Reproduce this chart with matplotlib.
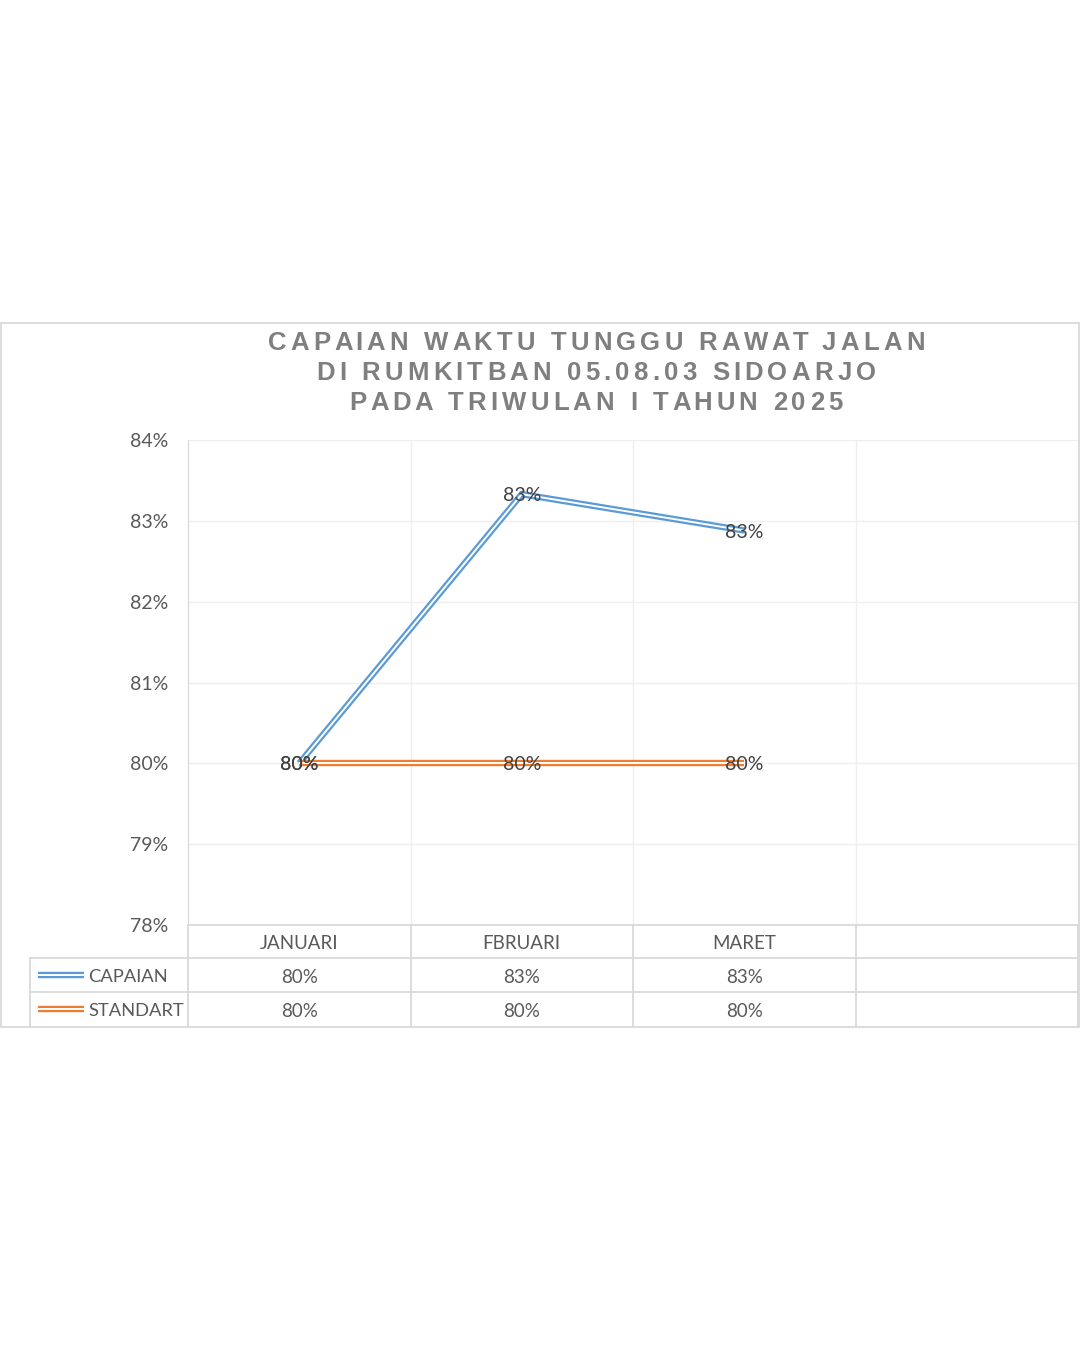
import matplotlib
matplotlib.use("Agg")
import matplotlib.pyplot as plt
from matplotlib.lines import Line2D
from matplotlib.patches import Rectangle
from matplotlib.transforms import blended_transform_factory
from matplotlib.font_manager import FontProperties

months = ["JANUARI", "FBRUARI", "MARET", ""]
capaian = [80.0, 83.33, 82.88]
standart = [80.0, 80.0, 80.0]
capaian_labels = ["80%", "83%", "83%"]
standart_labels = ["80%", "80%", "80%"]
series_names = ["CAPAIAN", "STANDART"]
title_lines = ["CAPAIAN WAKTU TUNGGU RAWAT JALAN",
               "DI RUMKITBAN 05.08.03 SIDOARJO",
               "PADA TRIWULAN I TAHUN 2025"]
yticks = [78, 79, 80, 81, 82, 83, 84]

W, H = 1080, 1350
BLUE = "#5b9bd5"
ORANGE = "#ed7d31"
GRID = "#efefef"
BORDER = "#d9d9d9"
TXT = "#595959"
LBL = "#404040"
FONT = "Lato"
FS = 14
FS_TAB = 13.5
FS_LEG = 13.2


def fx(px):
    return px / W


def fy(py):
    return 1 - py / H


fig = plt.figure(figsize=(W / 100, H / 100), dpi=100)
fig.patch.set_facecolor("white")

# chart border
fig.add_artist(Rectangle((fx(1), fy(1027)), fx(1078), (1027 - 323) / H,
                         transform=fig.transFigure, fill=False,
                         edgecolor=BORDER, lw=1.3))

ax = fig.add_axes([fx(188), fy(925), fx(1078) - fx(188), (925 - 440) / H])
ax.set_xlim(0, len(months))
ax.set_ylim(78, 84)
ax.set_yticks(yticks)
ax.set_yticklabels([f"{t}%" for t in yticks], fontsize=FS, color=TXT,
                   family=FONT)
ax.tick_params(axis="y", length=0, pad=14)
ax.set_xticks(range(len(months) + 1))
ax.tick_params(axis="x", length=0, labelbottom=False)
ax.grid(True, color=GRID, lw=1)
for s in ["top", "right", "bottom"]:
    ax.spines[s].set_visible(False)
ax.spines["left"].set_color(BORDER)

xs = [i + 0.5 for i in range(len(capaian))]


def double_line(x, y, color, z):
    ax.plot(x, y, color=color, lw=4.6, zorder=z, solid_capstyle="butt",
            solid_joinstyle="miter")
    ax.plot(x, y, color="white", lw=1.4, zorder=z + 0.1,
            solid_capstyle="butt", solid_joinstyle="miter")


double_line(xs, capaian, BLUE, 3)
double_line(xs, standart, ORANGE, 4)

for x, y, t in zip(xs, capaian, capaian_labels):
    ax.text(x, y, t, ha="center", va="center_baseline", fontsize=FS,
            color=LBL, family=FONT, zorder=6)
for x, y, t in zip(xs, standart, standart_labels):
    ax.text(x, y, t, ha="center", va="center_baseline", fontsize=FS,
            color=LBL, family=FONT, zorder=6)

# data table
tr = blended_transform_factory(ax.transData, fig.transFigure)
row_y = [925, 958, 992, 1026]
for y in row_y[:3]:
    x0 = 188 if y == 925 else 30
    fig.add_artist(Line2D([fx(x0), fx(1078)], [fy(y), fy(y)],
                          transform=fig.transFigure, color=BORDER, lw=1.3))
fig.add_artist(Line2D([fx(30), fx(30)], [fy(958), fy(1026)],
                      transform=fig.transFigure, color=BORDER, lw=1.3))
for i in range(len(months) + 1):
    fig.add_artist(Line2D([i, i], [fy(925), fy(1026)], transform=tr,
                          color=BORDER, lw=1.3))

for i, m in enumerate(months):
    ax.text(i + 0.5, fy(942), m, transform=tr, ha="center",
            va="center_baseline", fontsize=FS_TAB, color=TXT, family=FONT)
for rows, ypx in [(capaian_labels, 976), (standart_labels, 1010)]:
    for i, t in enumerate(rows):
        ax.text(i + 0.5, fy(ypx), t, transform=tr, ha="center",
                va="center_baseline", fontsize=FS_TAB, color=TXT,
                family=FONT)

for name, col, ypx in [(series_names[0], BLUE, 975),
                       (series_names[1], ORANGE, 1009)]:
    fig.add_artist(Line2D([fx(38), fx(84)], [fy(ypx), fy(ypx)],
                          transform=fig.transFigure, color=col, lw=4.6,
                          solid_capstyle="butt"))
    fig.add_artist(Line2D([fx(38), fx(84)], [fy(ypx), fy(ypx)],
                          transform=fig.transFigure, color="white", lw=1.4,
                          solid_capstyle="butt"))
    fig.text(fx(88), fy(ypx + 1), name, ha="left", va="center_baseline",
             fontsize=FS_LEG, color=TXT, family=FONT)

# title with letter spacing
renderer = fig.canvas.get_renderer()
fp = FontProperties(family="Liberation Sans", weight="bold", size=18.5)
track = 4.2


def text_w(s):
    w, _, _ = renderer.get_text_width_height_descent(s + "|", fp, ismath=False)
    w0, _, _ = renderer.get_text_width_height_descent("|", fp, ismath=False)
    return w - w0


for line, ypx in zip(title_lines, [343, 373, 403]):
    offs = [text_w(line[:i]) + track * i for i in range(len(line))]
    total = text_w(line) + track * (len(line) - 1)
    start = 596 - total / 2
    for ch, o in zip(line, offs):
        if ch != " ":
            fig.text(fx(start + o), fy(ypx), ch, fontproperties=fp,
                     color="#7f7f7f", ha="left", va="center")

fig.savefig("out.png", dpi=100, facecolor="white")
